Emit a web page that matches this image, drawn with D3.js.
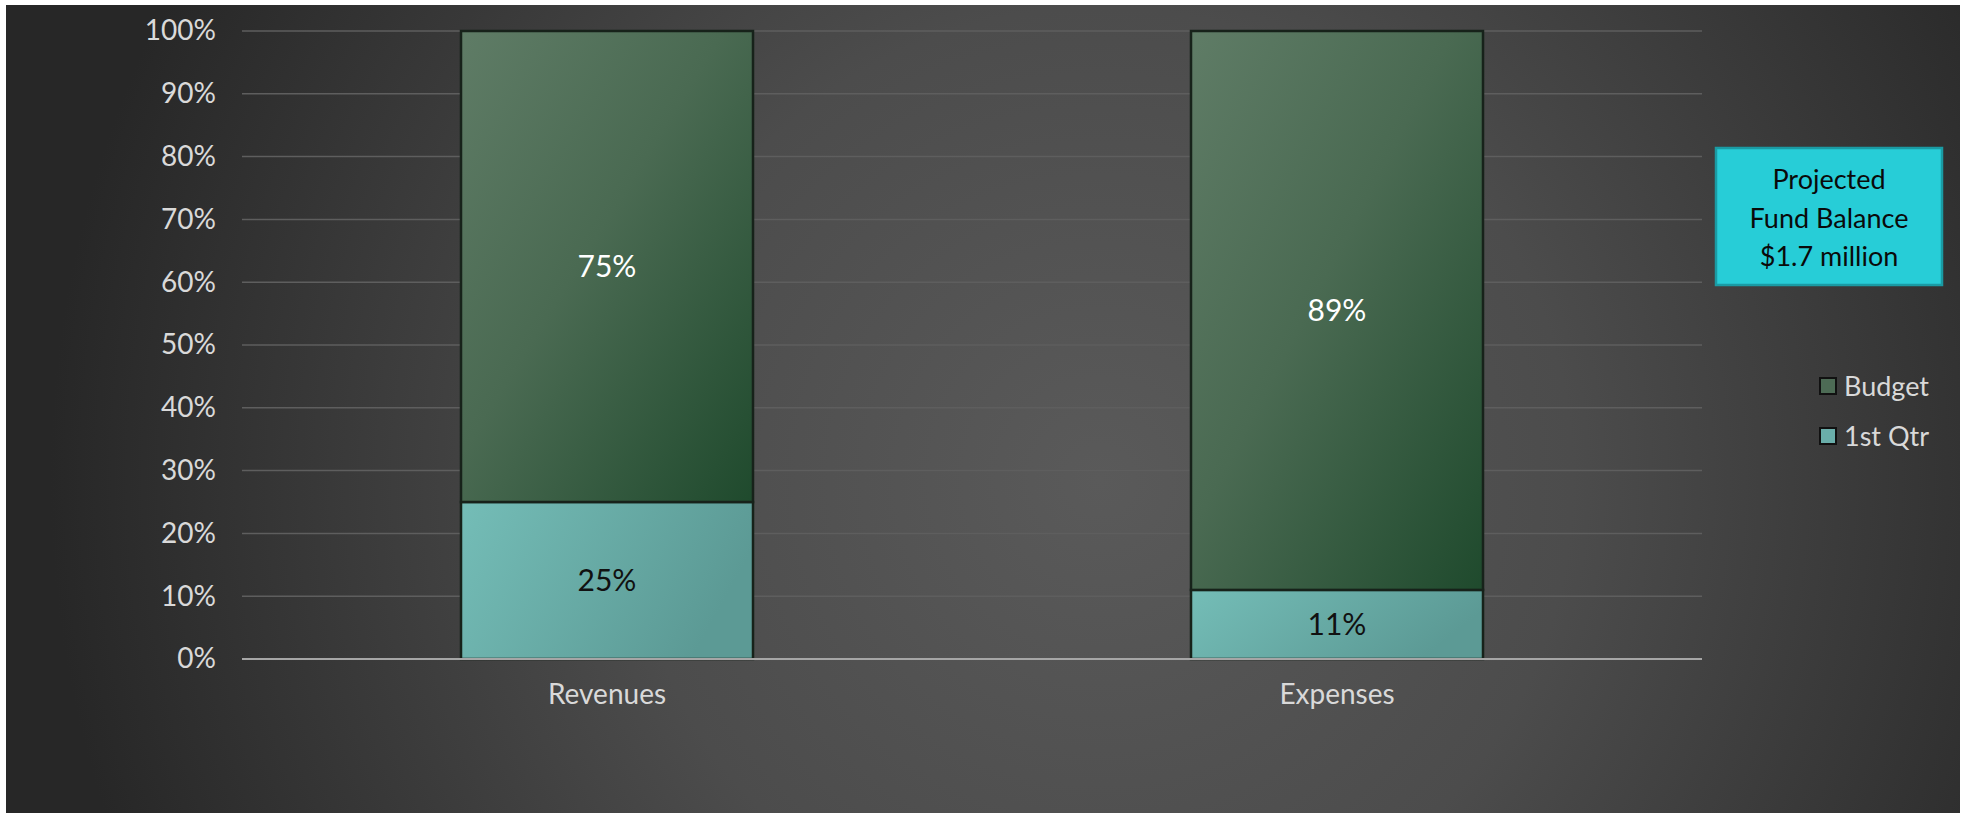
<!DOCTYPE html>
<html>
<head>
<meta charset="utf-8">
<script src="https://cdn.jsdelivr.net/npm/d3@7"></script>
<style>
  html, body { margin: 0; padding: 0; background: #ffffff; }
  svg { display: block; }
  text { font-family: Lato, "Open Sans", sans-serif; }
</style>
</head>
<body>
<svg id="chart" width="1970" height="813"></svg>
<script>
// ---- data ----
const categories = ["Revenues", "Expenses"];
const seriesNames = ["1st Qtr", "Budget"];
const firstQtr = [25, 11];
const budget = [75, 89];
const yTicks = [0, 10, 20, 30, 40, 50, 60, 70, 80, 90, 100];
const calloutLines = ["Projected", "Fund Balance", "$1.7 million"];
const legendOrder = ["Budget", "1st Qtr"];

const svg = d3.select("#chart");
const W = 1970, H = 813;

const defs = svg.append("defs");
const bg = defs.append("radialGradient").attr("id", "bg")
  .attr("gradientUnits", "userSpaceOnUse")
  .attr("cx", 1100).attr("cy", 480).attr("r", 1050);
bg.append("stop").attr("offset", 0).attr("stop-color", "#5a5a5a");
bg.append("stop").attr("offset", 0.45).attr("stop-color", "#4c4c4c");
bg.append("stop").attr("offset", 1).attr("stop-color", "#272727");

const gGreen = defs.append("linearGradient").attr("id", "gGreen")
  .attr("x1", 0).attr("y1", 0).attr("x2", 1).attr("y2", 1);
gGreen.append("stop").attr("offset", 0).attr("stop-color", "#5f7c66");
gGreen.append("stop").attr("offset", 0.45).attr("stop-color", "#4a6a52");
gGreen.append("stop").attr("offset", 1).attr("stop-color", "#1f4a2d");

const gTeal = defs.append("linearGradient").attr("id", "gTeal")
  .attr("x1", 0).attr("y1", 0).attr("x2", 1).attr("y2", 0.3);
gTeal.append("stop").attr("offset", 0).attr("stop-color", "#74bdb7");
gTeal.append("stop").attr("offset", 1).attr("stop-color", "#5c9a95");

// background
svg.append("rect").attr("x", 6).attr("y", 5).attr("width", 1954).attr("height", H - 5)
  .attr("fill", "url(#bg)");

// scales
const plotLeft = 242, plotRight = 1702, plotTop = 31, plotBottom = 659;
const x = d3.scaleBand().domain(categories).range([plotLeft, plotRight])
  .paddingInner(0.6).paddingOuter(0.3);
const y = d3.scaleLinear().domain([0, 100]).range([plotBottom, plotTop]);

// gridlines
svg.append("g").selectAll("line").data(yTicks.filter(d => d > 0)).join("line")
  .attr("x1", plotLeft).attr("x2", plotRight)
  .attr("y1", d => y(d)).attr("y2", d => y(d))
  .attr("stroke", "#5e5e5e").attr("stroke-width", 1.5);

// y axis
const yAxis = d3.axisLeft(y).tickValues(yTicks).tickFormat(d => d + "%").tickSize(0).tickPadding(26);
const ya = svg.append("g").attr("transform", `translate(${plotLeft},0)`).call(yAxis);
ya.select(".domain").remove();
ya.selectAll("text").attr("fill", "#d9d9d9").style("font-size", "28px")
  .style("font-family", "Lato, sans-serif");

// stacked data
const rows = categories.map((c, i) => ({ cat: c, "1st Qtr": firstQtr[i], "Budget": budget[i] }));
const stack = d3.stack().keys(seriesNames)(rows);
const fills = { "1st Qtr": "url(#gTeal)", "Budget": "url(#gGreen)" };
const labelColors = { "1st Qtr": "#111111", "Budget": "#ffffff" };

const layers = svg.append("g").selectAll("g").data(stack).join("g");
layers.selectAll("rect").data(s => s.map(d => ({ key: s.key, d }))).join("rect")
  .attr("x", o => x(o.d.data.cat))
  .attr("width", x.bandwidth())
  .attr("y", o => y(o.d[1]))
  .attr("height", o => y(o.d[0]) - y(o.d[1]))
  .attr("fill", o => fills[o.key])
  .attr("stroke", "#17221a").attr("stroke-width", 2.5);

// x axis baseline
svg.append("line").attr("x1", plotLeft).attr("x2", plotRight)
  .attr("y1", plotBottom).attr("y2", plotBottom)
  .attr("stroke", "#a6a6a6").attr("stroke-width", 2);

// data labels
layers.selectAll("text").data(s => s.map(d => ({ key: s.key, d }))).join("text")
  .attr("x", o => x(o.d.data.cat) + x.bandwidth() / 2)
  .attr("y", o => (y(o.d[0]) + y(o.d[1])) / 2)
  .attr("dy", "0.35em")
  .attr("text-anchor", "middle")
  .attr("fill", o => labelColors[o.key])
  .style("font-size", "30px")
  .text(o => (o.d[1] - o.d[0]) + "%");

// x axis labels
const xAxis = d3.axisBottom(x).tickSize(0).tickPadding(25);
const xa = svg.append("g").attr("transform", `translate(0,${plotBottom})`).call(xAxis);
xa.select(".domain").remove();
xa.selectAll("text").attr("fill", "#d9d9d9").style("font-size", "28px")
  .style("font-family", "Lato, sans-serif");

// callout box
const box = svg.append("g");
box.append("rect").attr("x", 1716).attr("y", 148).attr("width", 226).attr("height", 137)
  .attr("fill", "#27cdd7").attr("stroke", "#1a9ba4").attr("stroke-width", 2.5);
box.selectAll("text").data(calloutLines).join("text")
  .attr("x", 1829).attr("y", (d, i) => 189 + i * 38.5)
  .attr("text-anchor", "middle").attr("fill", "#0a0a0a")
  .style("font-size", "27px")
  .text(d => d);

// legend
const legendFill = { "Budget": "#4d6b55", "1st Qtr": "#6aaeaa" };
const leg = svg.append("g").selectAll("g").data(legendOrder).join("g")
  .attr("transform", (d, i) => `translate(1820,${378 + i * 50})`);
leg.append("rect").attr("width", 16).attr("height", 16)
  .attr("fill", d => legendFill[d]).attr("stroke", "#111").attr("stroke-width", 2);
leg.append("text").attr("x", 24).attr("y", 8).attr("dy", "0.36em")
  .attr("fill", "#d9d9d9").style("font-size", "27px").text(d => d);
</script>
</body>
</html>
